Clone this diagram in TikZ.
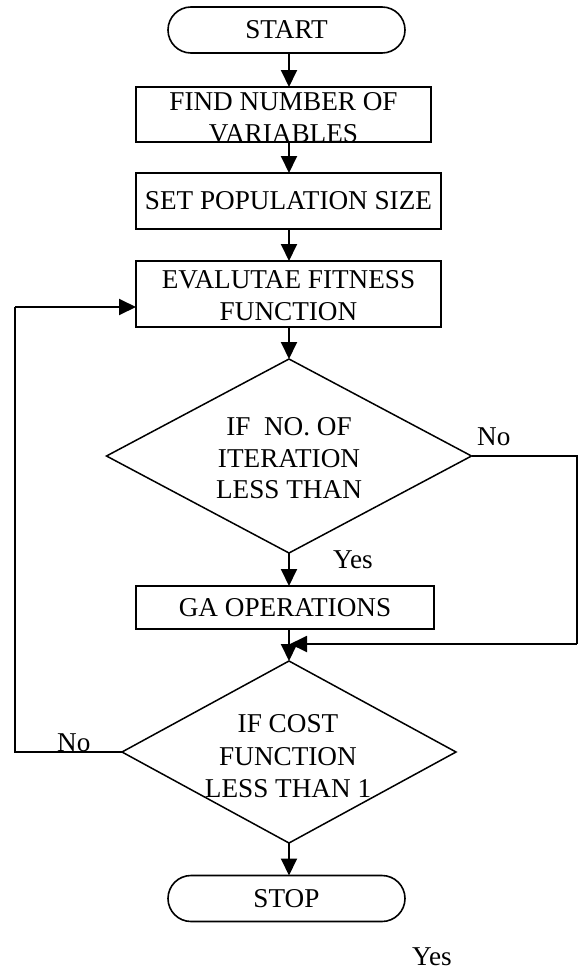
\documentclass[tikz,border=0pt]{standalone}
\usepackage{fontspec}
\setmainfont{Liberation Serif}
\usetikzlibrary{shapes.geometric,shapes.misc,arrows.meta}
\begin{document}
\begin{tikzpicture}[x=1pt,y=-1pt,
  every node/.style={font=\fontsize{27.2}{32}\selectfont},
  box/.style={draw, line width=1.9pt, rectangle, inner sep=0pt, outer sep=0pt},
  term/.style={draw, line width=1.6pt, rounded rectangle, inner sep=0pt, outer sep=0pt, minimum width=237pt, minimum height=46pt},
  dec/.style={draw, line width=1.5pt, diamond, inner sep=0pt, outer sep=0pt},
  txt/.style={align=center, anchor=base, inner sep=0pt},
  lbl/.style={anchor=base west, inner sep=0pt},
  arr/.style={line width=1.9pt, -{Triangle[length=17pt,width=16pt]}},
  ln/.style={line width=1.6pt}]
\useasboundingbox (0,0) rectangle (579,969);
\coordinate (cx) at (289,0);
% nodes
\node[term] (start) at (286.5,30) {START};
\node[box, minimum width=295pt, minimum height=55pt] (find) at (283.5,114.5) {};
\node[txt] (findt1) at (283.5,110) {FIND NUMBER OF};
\node[txt] (findt2) at (283.5,142) {VARIABLES};
\node[box, minimum width=305pt, minimum height=56pt] (set) at (288.5,201) {SET POPULATION SIZE};
\node[box, minimum width=305pt, minimum height=66pt] (eval) at (288.5,294) {};
\node[txt] (evalt1) at (288.5,288) {EVALUTAE FITNESS};
\node[txt] (evalt2) at (288.5,320) {FUNCTION};
\node[dec, minimum width=365pt, minimum height=194pt] (d1) at (289,456) {};
\node[txt] (d1t1) at (289,435) {IF~~NO. OF};
\node[txt] (d1t2) at (289,467) {ITERATION};
\node[txt] (d1t3) at (289,498) {LESS THAN};
\node[box, minimum width=298pt, minimum height=43pt] (ga) at (285,607.5) {GA OPERATIONS};
\node[dec, minimum width=334pt, minimum height=182pt] (d2) at (289,752) {};
\node[txt] (d2t1) at (288,732) {IF COST};
\node[txt] (d2t2) at (288,765) {FUNCTION};
\node[txt] (d2t3) at (288,797) {LESS THAN 1};
\node[term] (stop) at (286.5,898.5) {STOP};
% labels
\node[lbl] (yes1) at (333,568) {Yes};
\node[lbl] (no1) at (477,445) {No};
\node[lbl] (no2) at (57,751) {No};
\node[lbl] (yes2) at (412,965) {Yes};
% connectors
\draw[arr] (start.south -| cx) -- (find.north -| cx);
\draw[arr] (find.south -| cx) -- (set.north -| cx);
\draw[arr] (set.south -| cx) -- (eval.north -| cx);
\draw[arr] (eval.south -| cx) -- (d1.north);
\draw[arr] (d1.south) -- (ga.north -| cx);
\draw[arr] (ga.south -| cx) -- (d2.north);
\draw[arr] (d2.south) -- (stop.north -| cx);
\coordinate (rt) at (577,456);
\coordinate (rb) at (577,644);
\coordinate (merge) at (290,644);
\draw[ln] (d1.east) -- (rt) -- (rb);
\draw[arr] (rb) -- (merge);
\coordinate (lb) at (15,752);
\coordinate (lt) at (15,307);
\draw[ln] (d2.west) -- (lb) -- (lt);
\draw[arr] (lt) -- (lt -| eval.west);
\end{tikzpicture}
\end{document}
